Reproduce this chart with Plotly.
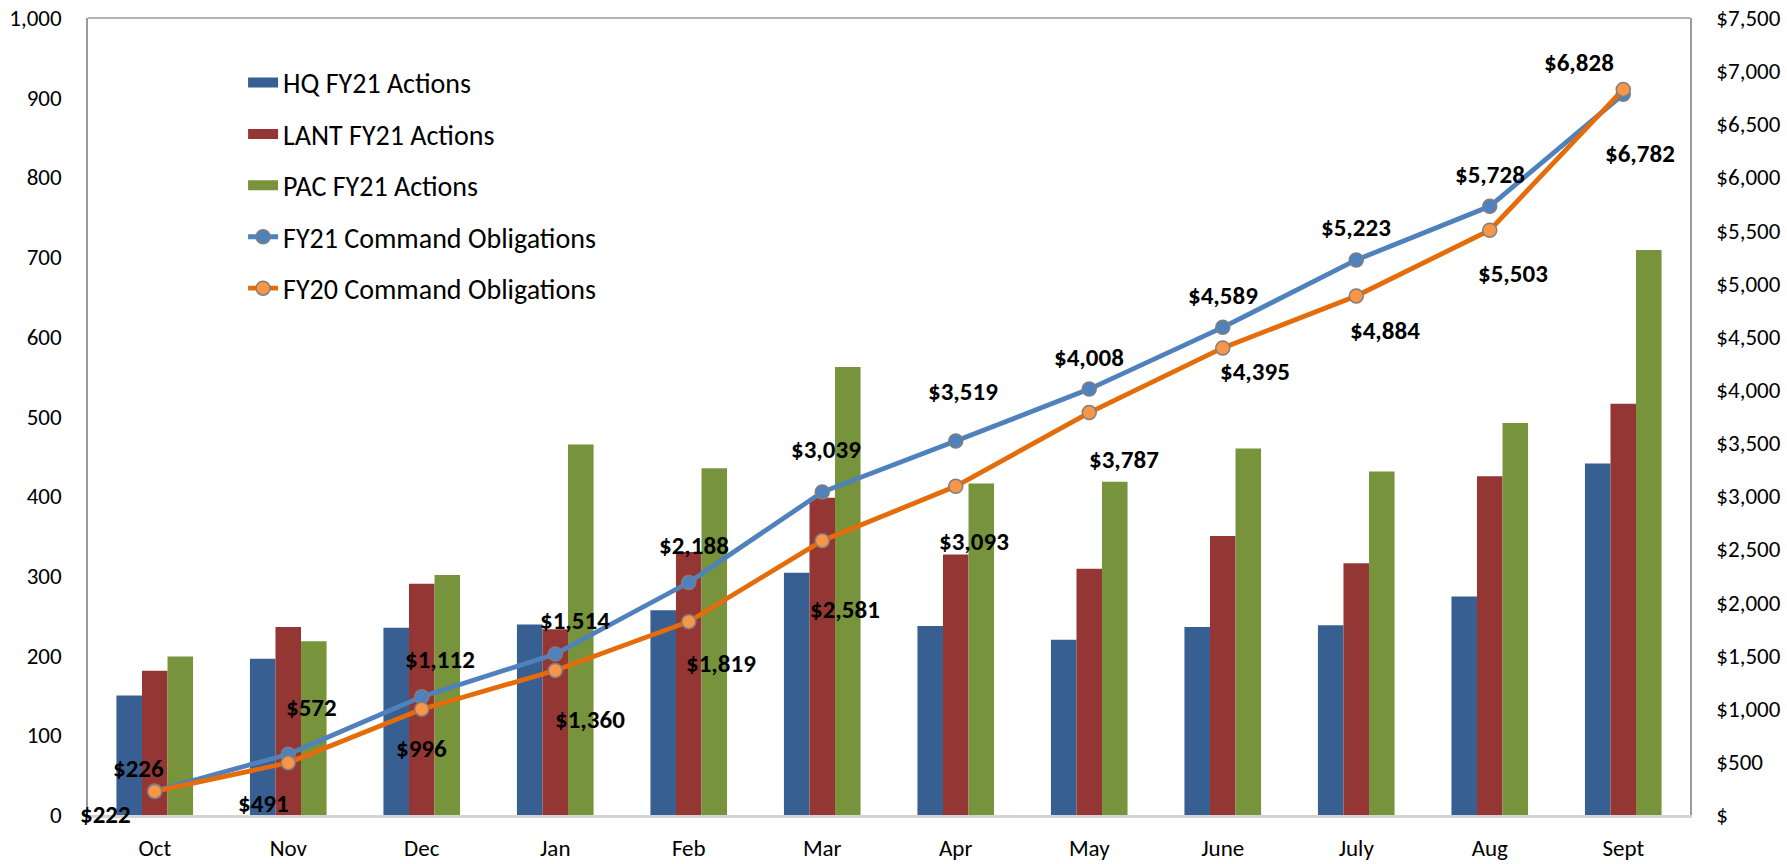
import plotly.graph_objects as go

# ---------------- data ----------------
months = ["Oct", "Nov", "Dec", "Jan", "Feb", "Mar", "Apr", "May", "June", "July", "Aug", "Sept"]
hq_fy21 = [150, 196, 235, 239, 257, 304, 237, 220, 236, 238, 274, 441]
lant_fy21 = [181, 236, 290, 233, 330, 398, 327, 309, 350, 316, 425, 516]
pac_fy21 = [199, 218, 301, 465, 435, 562, 416, 418, 460, 431, 492, 709]
fy21_oblig = [226, 572, 1112, 1514, 2188, 3039, 3519, 4008, 4589, 5223, 5728, 6782]
fy20_oblig = [222, 491, 996, 1360, 1819, 2581, 3093, 3787, 4395, 4884, 5503, 6828]
left_ticks = list(range(0, 1001, 100))
right_ticks = list(range(0, 7501, 500))

# label offsets (px) relative to marker: (dx, dy) with dy positive = downward
fy21_label_offsets = [(-16, -22), (23, -47), (18, -37), (20, -34), (5, -37), (4, -43),
                      (7, -50), (0, -32), (0, -32), (0, -32), (0, -32), (17, 59)]
fy20_label_offsets = [(-49, 23), (-25, 41), (0, 39), (35, 49), (32, 42), (23, 69),
                      (18, 55), (35, 47), (32, 24), (29, 35), (23, 43), (-44, -27)]

FONT = "Calibri, Carlito, Lato, sans-serif"

fig = go.Figure()
bar_specs = [("HQ FY21 Actions", hq_fy21, "#375F91"),
             ("LANT FY21 Actions", lant_fy21, "#943634"),
             ("PAC FY21 Actions", pac_fy21, "#77933C")]
for i, (name, vals, col) in enumerate(bar_specs):
    fig.add_trace(go.Bar(x=months, y=vals, name=name, marker_color=col,
                         marker_line_width=0, showlegend=False, yaxis="y"))
    # legend-only entry drawn as a wide swatch
    fig.add_trace(go.Scatter(x=[None], y=[None], name=name, mode="lines",
                             line=dict(color=col, width=17), legendgroup=f"g{i}",
                             yaxis="y", hoverinfo="skip"))

line_specs = [("FY21 Command Obligations", fy21_oblig, "#4F81BD", "#4F81BD"),
              ("FY20 Command Obligations", fy20_oblig, "#E46C0A", "#F79646")]
for j, (name, vals, lcol, mcol) in enumerate(line_specs):
    fig.add_trace(go.Scatter(x=months, y=vals, name=name, mode="lines+markers",
                             line=dict(color=lcol, width=4.8),
                             marker=dict(size=14, color=mcol, line=dict(color="#7F7F7F", width=1.5)),
                             legendgroup=f"g{3+j}", yaxis="y2"))

annotations = []
for vals, offs in ((fy21_oblig, fy21_label_offsets), (fy20_oblig, fy20_label_offsets)):
    for m, v, (dx, dy) in zip(months, vals, offs):
        annotations.append(dict(x=m, y=v, xref="x", yref="y2", text=f"<b>${v:,}</b>",
                                showarrow=False, xshift=dx, yshift=-dy,
                                font=dict(family=FONT, size=25, color="#000000"),
                                xanchor="center", yanchor="middle"))

fig.update_layout(
    width=1787, height=864,
    margin=dict(l=88, r=97, t=17.5, b=49, autoexpand=False),
    paper_bgcolor="white", plot_bgcolor="white",
    barmode="group", bargap=0.426, bargroupgap=0,
    font=dict(family=FONT, size=23, color="#000000"),
    showlegend=True,
    legend=dict(x=0.0968, y=0.950, xanchor="left", yanchor="top",
                font=dict(family=FONT, size=28), tracegroupgap=12,
                bgcolor="rgba(0,0,0,0)"),
    xaxis=dict(range=[-0.5, 11.5], showgrid=False, showline=True, linecolor="#D4D4D4",
               linewidth=2.5, ticks="", tickfont=dict(size=23), ticklabelstandoff=11,
               automargin=False),
    yaxis=dict(range=[0, 1000], tickvals=left_ticks,
               ticktext=[f"{t:,}" for t in left_ticks],
               showgrid=False, zeroline=False, showline=True, linecolor="#9A9A9A",
               linewidth=1.5, ticks="", tickfont=dict(size=23), ticklabelstandoff=20,
               automargin=False),
    yaxis2=dict(range=[0, 7500], overlaying="y", side="right", tickvals=right_ticks,
                ticktext=["$" if t == 0 else f"${t:,}" for t in right_ticks],
                showgrid=False, zeroline=False, showline=True, linecolor="#9A9A9A",
                linewidth=1.5, ticks="", tickfont=dict(size=23), ticklabelstandoff=20,
                automargin=False),
    annotations=annotations,
    shapes=[dict(type="line", xref="paper", yref="paper", x0=0, x1=1, y0=1, y1=1,
                 line=dict(color="#9A9A9A", width=1.5))],
)

fig.write_html("out.html")
